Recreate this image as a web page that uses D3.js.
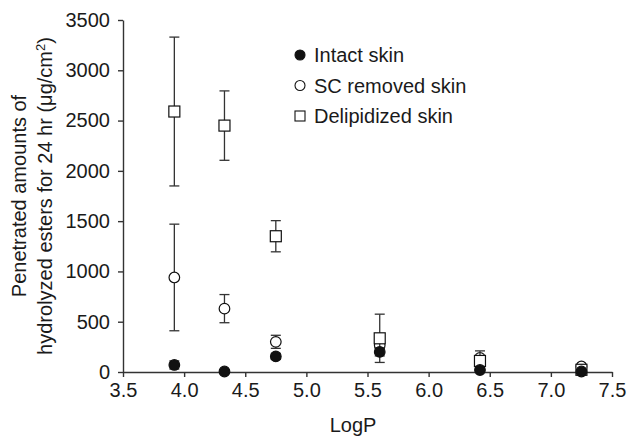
<!DOCTYPE html>
<html>
<head>
<meta charset="utf-8">
<script src="https://cdn.jsdelivr.net/npm/d3@7"></script>
<style>
  body { margin: 0; background: #fff; }
  text { font-family: "Liberation Sans", Arial, sans-serif; fill: #1a1a1a; }
</style>
</head>
<body>
<svg width="629" height="436"></svg>
<script>
// values
let logP = [3.92, 4.33, 4.75, 5.6, 6.42, 7.25];
let intact = [70, 5, 155, 200, 20, 5];
let intactErr = [40, 0, 30, 40, 0, 0];
let scRemoved = [940, 630, 300, 265, 140, 55];
let scRemovedErr = [530, 140, 65, 30, 0, 0];
let delipidized = [2590, 2450, 1350, 335, 110, 22];
let delipidizedErr = [740, 345, 155, 240, 100, 0];
let xTicks = [3.5, 4.0, 4.5, 5.0, 5.5, 6.0, 6.5, 7.0, 7.5];
let yTicks = [0, 500, 1000, 1500, 2000, 2500, 3000, 3500];
let legendLabels = ["Intact skin", "SC removed skin", "Delipidized skin"];

let svg = d3.select("svg");
let plotLeft = 123, plotTop = 20, plotRight = 612, plotBottom = 372;

let x = d3.scaleLinear().domain([3.5, 7.5]).range([plotLeft, plotRight]);
let y = d3.scaleLinear().domain([0, 3500]).range([plotBottom, plotTop]);

let xAxis = svg.append("g")
  .attr("transform", `translate(0, ${plotBottom})`)
  .call(d3.axisBottom(x).tickValues(xTicks).tickFormat(d3.format(".1f"))
    .tickSize(5).tickPadding(6).tickSizeOuter(0));

let yAxis = svg.append("g")
  .attr("transform", `translate(${plotLeft}, 0)`)
  .call(d3.axisLeft(y).tickValues(yTicks).tickFormat(d3.format("d"))
    .tickSize(5).tickPadding(8).tickSizeOuter(0));

[xAxis, yAxis].forEach(function (ax) {
  ax.selectAll("path, line").attr("stroke", "#333").attr("stroke-width", 1.4);
  ax.selectAll("text").style("font-size", "20px").attr("fill", "#1a1a1a")
    .style("font-family", "'Liberation Sans', Arial, sans-serif");
});

// axis titles
svg.append("text")
  .attr("x", 353).attr("y", 432)
  .attr("text-anchor", "middle")
  .style("font-size", "20px")
  .text("LogP");

let yTitle = svg.append("text")
  .attr("transform", `translate(0, ${(plotTop + plotBottom) / 2}) rotate(-90)`)
  .attr("text-anchor", "middle")
  .style("font-size", "20px");
yTitle.append("tspan").attr("x", 0).attr("y", 26).text("Penetrated amounts of");
let line2 = yTitle.append("tspan").attr("x", 0).attr("y", 52);
line2.append("tspan").text("hydrolyzed esters for 24 hr (\u03bcg/cm");
line2.append("tspan").attr("dy", -7).style("font-size", "13px").text("2");
line2.append("tspan").attr("dy", 7).text(")");

function drawSeries(values, errs, shape, fill) {
  let g = svg.append("g");
  let pts = logP.map(function (p, i) {
    return { p: p, v: values[i], e: errs[i] };
  });
  let eb = g.selectAll(".err").data(pts.filter(function (d) { return d.e > 0; }))
    .enter().append("g").attr("stroke", "#333").attr("stroke-width", 1.3);
  eb.append("line")
    .attr("x1", function (d) { return x(d.p); })
    .attr("x2", function (d) { return x(d.p); })
    .attr("y1", function (d) { return y(d.v + d.e); })
    .attr("y2", function (d) { return y(Math.max(0, d.v - d.e)); });
  eb.append("line")
    .attr("x1", function (d) { return x(d.p) - 5; })
    .attr("x2", function (d) { return x(d.p) + 5; })
    .attr("y1", function (d) { return y(d.v + d.e); })
    .attr("y2", function (d) { return y(d.v + d.e); });
  eb.append("line")
    .attr("x1", function (d) { return x(d.p) - 5; })
    .attr("x2", function (d) { return x(d.p) + 5; })
    .attr("y1", function (d) { return y(Math.max(0, d.v - d.e)); })
    .attr("y2", function (d) { return y(Math.max(0, d.v - d.e)); });

  if (shape == "square") {
    g.selectAll(".mk").data(pts).enter().append("rect")
      .attr("x", function (d) { return x(d.p) - 5.5; })
      .attr("y", function (d) { return y(d.v) - 5.5; })
      .attr("width", 11).attr("height", 11)
      .attr("fill", fill).attr("stroke", "#111").attr("stroke-width", 1.2);
  } else {
    g.selectAll(".mk").data(pts).enter().append("circle")
      .attr("cx", function (d) { return x(d.p); })
      .attr("cy", function (d) { return y(d.v); })
      .attr("r", 5.3)
      .attr("fill", fill).attr("stroke", "#111").attr("stroke-width", 1.2);
  }
}

// open circles sit behind the squares, filled circles in front
drawSeries(scRemoved, scRemovedErr, "circle", "#fff");
drawSeries(delipidized, delipidizedErr, "square", "#fff");
drawSeries(intact, intactErr, "circle", "#111");

// legend
let legend = svg.append("g").attr("transform", "translate(300, 55)");
let shapes = ["filled", "open", "square"];
legendLabels.forEach(function (label, i) {
  let row = legend.append("g").attr("transform", `translate(0, ${i * 30.5})`);
  if (shapes[i] == "square") {
    row.append("rect").attr("x", -5).attr("y", -5).attr("width", 10).attr("height", 10)
      .attr("fill", "#fff").attr("stroke", "#111").attr("stroke-width", 1.1);
  } else {
    row.append("circle").attr("r", 5)
      .attr("fill", shapes[i] == "filled" ? "#111" : "#fff")
      .attr("stroke", "#111").attr("stroke-width", 1.1);
  }
  row.append("text").attr("x", 14).attr("y", 7)
    .style("font-size", "20px").text(label);
});
</script>
</body>
</html>
